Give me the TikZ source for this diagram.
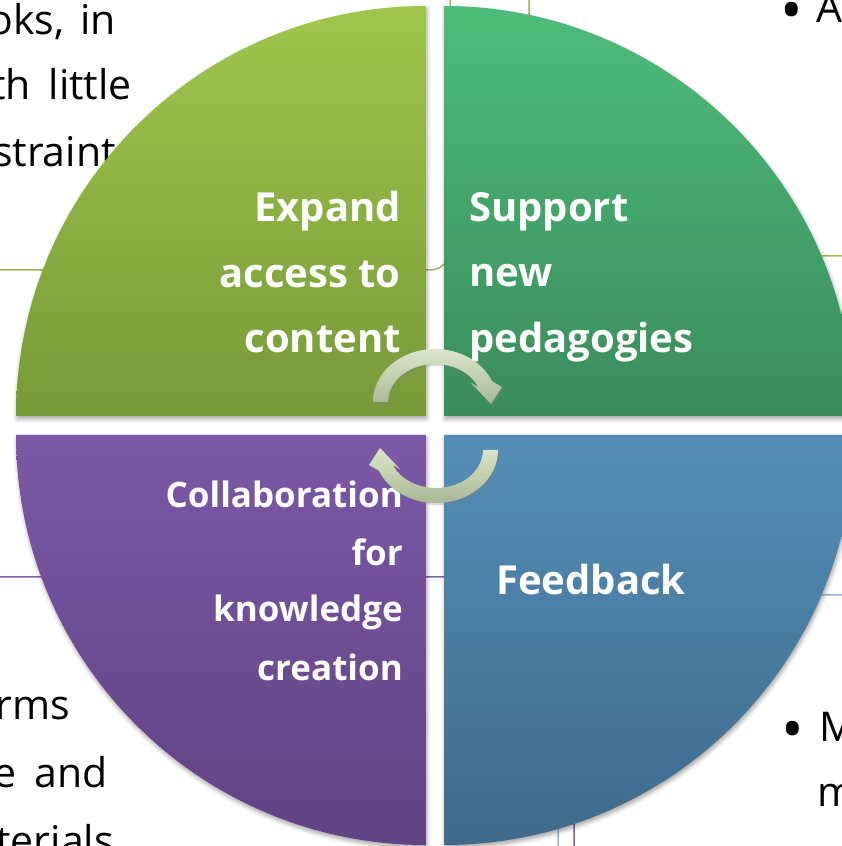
\documentclass[tikz,border=0pt]{standalone}
\usepackage{fontspec}
\setmainfont{Open Sans}
\usepackage{tikz}
\usetikzlibrary{calc,shadows,shadows.blur}

\definecolor{tltop}{HTML}{9EC74C}
\definecolor{tlbot}{HTML}{779938}
\definecolor{trtop}{HTML}{4EBC79}
\definecolor{trbot}{HTML}{3A8C5A}
\definecolor{bltop}{HTML}{7C58A6}
\definecolor{blbot}{HTML}{614283}
\definecolor{brtop}{HTML}{548EB7}
\definecolor{brbot}{HTML}{3F6A8B}
\definecolor{arrtop}{HTML}{DAE5CA}
\definecolor{arrbot}{HTML}{A9B994}
\definecolor{lngreen}{HTML}{9BBB59}
\definecolor{lnpurple}{HTML}{8064A2}
\definecolor{lnblue}{HTML}{9DB5D0}

\newcommand{\bigbul}{{\fontsize{60bp}{60bp}\selectfont\raisebox{-9bp}{•}}}

\begin{document}
\begin{tikzpicture}[x=1bp,y=1bp,
	quad/.style={blur shadow={shadow xshift=1bp,shadow yshift=-3bp,shadow blur radius=4bp,shadow opacity=35}},
	lbl/.style={text=white,font=\bfseries\fontsize{40bp}{48bp}\selectfont,inner sep=0pt},
	lblsmall/.style={lbl,font=\bfseries\fontsize{35bp}{42bp}\selectfont},
	bgtext/.style={font=\fontsize{41bp}{48bp}\selectfont,inner sep=0pt},
	bgline/.style={line width=1.5bp,rounded corners=20bp},
	cyc/.style={top color=arrtop,bottom color=arrbot,drop shadow={opacity=0.3,shadow xshift=2bp,shadow yshift=-2bp}}]
	
	\useasboundingbox (0,0) rectangle (842,846);
	\clip (0,0) rectangle (842,846);
	
	% slide behind the diagram
	\draw[bgline,lngreen] (0,576) -- (450,576) -- (450,846);
	\draw[bgline,lngreen] (529,846) -- (529,590) -- (842,590);
	\draw[bgline,lnpurple] (0,269) -- (574,269) -- (574,0);
	\draw[bgline,lnblue] (842,251) -- (558,251) -- (558,0);
	\node[bgtext,anchor=base east] (txa) at (116,811) {oks,\hspace{16bp}in};
	\node[bgtext,anchor=base east] (txb) at (132,746) {th\hspace{18bp}little};
	\node[bgtext,anchor=base east] (txc) at (116,679) {straint};
	\node[bgtext,anchor=base east] (txd) at (70,126) {rms};
	\node[bgtext,anchor=base east] (txe) at (108,58) {e\hspace{18bp}and};
	\node[bgtext,anchor=base east] (txf) at (114,-9) {terials};
	\node[bgtext,anchor=base west] (txg) at (780,823) {\bigbul\hspace{14bp}A};
	\node[bgtext,anchor=base west] (txh) at (781,104) {\bigbul\hspace{16bp}M};
	\node[bgtext,anchor=base west] (txi) at (817,39) {m};
	
	% quadrants
	\coordinate (ctl) at (426,430);
	\coordinate (ctr) at (444,430);
	\coordinate (cbl) at (426,411);
	\coordinate (cbr) at (444,411);
	\path[quad,top color=tltop,bottom color=tlbot] (ctl) -- ++(-410,0) arc[start angle=180,end angle=90,radius=410] -- cycle;
	\path[quad,top color=trtop,bottom color=trbot] (ctr) -- ++(0,410) arc[start angle=90,end angle=0,radius=410] -- cycle;
	\path[quad,top color=bltop,bottom color=blbot] (cbl) -- ++(-410,0) arc[start angle=180,end angle=270,radius=410] -- cycle;
	\path[quad,top color=brtop,bottom color=brbot] (cbr) -- ++(410,0) arc[start angle=0,end angle=-90,radius=410] -- cycle;
	
	\node[lbl,anchor=base east] (exp1) at (401,624) {Expand};
	\node[lbl,anchor=base east] (exp2) at (401,558) {access to};
	\node[lbl,anchor=base east] (exp3) at (401,493) {content};
	\node[lbl,anchor=base west] (sup1) at (469,624) {Support};
	\node[lbl,anchor=base west] (sup2) at (469,559) {new};
	\node[lbl,anchor=base west] (sup3) at (469,493) {pedagogies};
	\node[lblsmall,anchor=base east] (col1) at (403,338) {Collaboration};
	\node[lblsmall,anchor=base east] (col2) at (403,280) {for};
	\node[lblsmall,anchor=base east] (col3) at (403,224) {knowledge};
	\node[lblsmall,anchor=base east] (col4) at (403,165) {creation};
	\node[lbl,anchor=base west] (fdb) at (496,251) {Feedback};
	
	% cycle arrows
	\coordinate (tc) at (435,444);
	\coordinate (bc) at (436,396);
	\path[cyc] ($(tc)+(-62,0)$) arc[start angle=180,end angle=23,x radius=62,y radius=53]
		-- ($(tc)+(67,15)$) -- ($(tc)+(56,-2)$) -- ($(tc)+(36,19)$)
		-- ($(tc)+(23:47 and 38)$) arc[start angle=23,end angle=180,x radius=47,y radius=38] -- cycle;
	\path[cyc] ($(bc)+(62,0)$) arc[start angle=0,end angle=-157,x radius=62,y radius=53]
		-- ($(bc)+(-67,-15)$) -- ($(bc)+(-56,2)$) -- ($(bc)+(-36,-19)$)
		-- ($(bc)+(-157:47 and 38)$) arc[start angle=-157,end angle=0,x radius=47,y radius=38] -- cycle;
	
\end{tikzpicture}
\end{document}
